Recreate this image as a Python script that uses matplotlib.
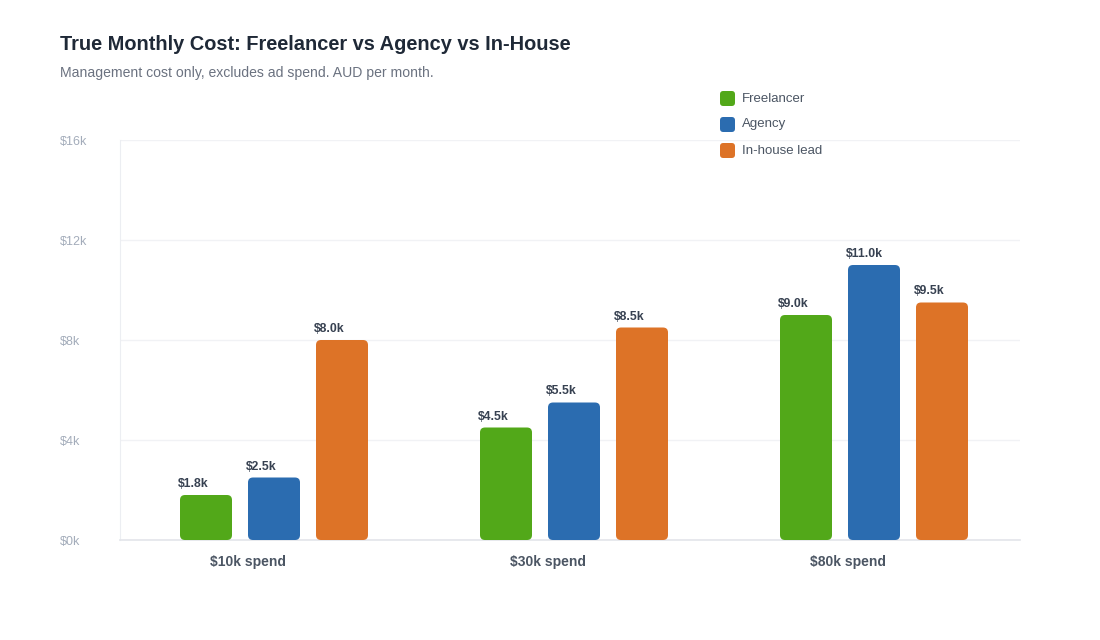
import matplotlib
matplotlib.use("Agg")
import matplotlib.pyplot as plt
from matplotlib.patches import FancyBboxPatch
import numpy as np

plt.rcParams['font.family'] = ['Liberation Sans', 'DejaVu Sans']

categories = ["$10k spend", "$30k spend", "$80k spend"]
series_names = ["Freelancer", "Agency", "In-house lead"]
freelancer = [1800, 4500, 9000]
agency = [2500, 5500, 11000]
inhouse = [8000, 8500, 9500]
value_labels = [["$1.8k", "$4.5k", "$9.0k"],
                ["$2.5k", "$5.5k", "$11.0k"],
                ["$8.0k", "$8.5k", "$9.5k"]]
yticks = [0, 4000, 8000, 12000, 16000]
ytick_labels = ["$0k", "$4k", "$8k", "$12k", "$16k"]
colors = ["#52a819", "#2b6cb0", "#dd7327"]

W, H = 1100, 640
fig = plt.figure(figsize=(W / 100, H / 100), dpi=100)
ax = fig.add_axes([120 / W, 100 / H, 900 / W, 400 / H])
ax.set_xlim(0, 3)
ax.set_ylim(0, 16000)

px_x = 3 / 900
px_y = 16000 / 400
offsets = [(206 - 120) / 300, (274 - 120) / 300, (342 - 120) / 300]
bw = 52 * px_x
x = np.arange(len(categories))

for s, vals in enumerate([freelancer, agency, inhouse]):
    bars = ax.bar(x + offsets[s], vals, width=bw, color=colors[s], label=series_names[s])
    for b, lab in zip(bars, value_labels[s]):
        bx, by = b.get_x(), b.get_y()
        bwid, bh = b.get_width(), b.get_height()
        b.set_visible(False)
        r = 5 * px_x
        patch = FancyBboxPatch((bx, by), bwid, bh,
                               boxstyle=f"round,pad=0,rounding_size={r}",
                               mutation_aspect=px_y / px_x,
                               facecolor=colors[s], edgecolor="none", zorder=3)
        ax.add_patch(patch)
        ax.annotate(lab, (bx, by + bh), xytext=(-2, 5), textcoords="offset pixels",
                    ha="left", va="bottom", fontsize=8.8, fontweight="bold",
                    color="#374151")

ax.set_yticks(yticks)
ax.set_yticklabels(ytick_labels)
ax.set_xticks(x + 128 / 300)
ax.set_xticklabels(categories)
ax.tick_params(axis="y", length=0, pad=43.2, labelsize=9, labelcolor="#a3acba")
for t in ax.get_yticklabels():
    t.set_horizontalalignment("left")
ax.tick_params(axis="x", length=0, pad=11, labelsize=10, labelcolor="#4b5563")
for t in ax.get_xticklabels():
    t.set_fontweight("bold")

ax.grid(axis="y", color="#f1f2f5", linewidth=1, zorder=0)
ax.set_axisbelow(True)
for sp in ["top", "right"]:
    ax.spines[sp].set_visible(False)
ax.spines["left"].set_color("#eceef2")
ax.spines["bottom"].set_color("#e3e5ea")
ax.spines["bottom"].set_linewidth(1.2)

fig.text(60 / W, 1 - 45 / H, "True Monthly Cost: Freelancer vs Agency vs In-House",
         fontsize=14.4, fontweight="bold", color="#1f2937", va="center", ha="left")
fig.text(60 / W, 1 - 73 / H, "Management cost only, excludes ad spend. AUD per month.",
         fontsize=10.1, color="#6b7280", va="center", ha="left")

# legend
for i, name in enumerate(series_names):
    yc = 1 - (98.5 + 26 * i) / H
    fig.patches.append(FancyBboxPatch((720 / W, yc - 7.5 / H), 15 / W, 15 / H,
                                      boxstyle="round,pad=0,rounding_size=0.003",
                                      mutation_aspect=W / H,
                                      transform=fig.transFigure, facecolor=colors[i],
                                      edgecolor="none", figure=fig))
    fig.text(742 / W, yc, name, fontsize=9.5, color="#4b5563", va="center", ha="left")

fig.savefig("out.png", dpi=100, facecolor="white")
